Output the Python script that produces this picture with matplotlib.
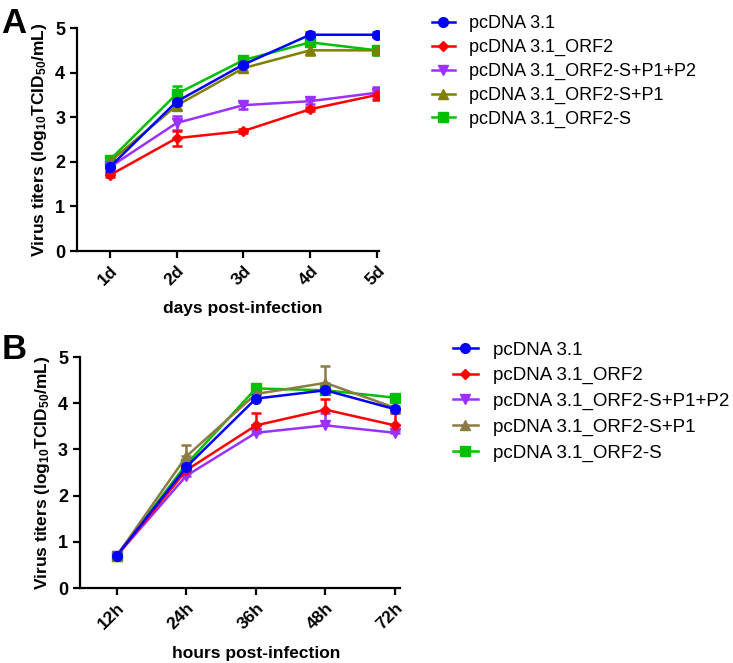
import numpy as np
import matplotlib
matplotlib.use("Agg")
import matplotlib.pyplot as plt
from matplotlib.lines import Line2D

plt.rcParams['font.family'] = ['Liberation Sans', 'DejaVu Sans']
plt.rcParams['mathtext.default'] = 'regular'

# groups (legend order)
groups = ["pcDNA 3.1", "pcDNA 3.1_ORF2", "pcDNA 3.1_ORF2-S+P1+P2",
          "pcDNA 3.1_ORF2-S+P1", "pcDNA 3.1_ORF2-S"]
colors_A = ["#0000FF", "#FF0000", "#9B30FF", "#7F7F00", "#00C000"]
colors_B = ["#0000FF", "#FF0000", "#9B30FF", "#8C7B45", "#00C000"]
markers = ["o", "D", "v", "^", "s"]
msizes = [7, 5, 7, 7, 6.5]

# panel A: days post-infection
days = ["1d", "2d", "3d", "4d", "5d"]
A_blue = [1.88, 3.35, 4.18, 4.85, 4.85]
A_red = [1.70, 2.53, 2.69, 3.18, 3.50]
A_purple = [1.88, 2.87, 3.27, 3.36, 3.55]
A_olive = [2.00, 3.26, 4.10, 4.50, 4.50]
A_green = [2.04, 3.52, 4.28, 4.68, 4.50]
A_blue_err = [0.10, 0.08, 0.05, 0.06, 0.06]
A_red_err = [0.04, 0.17, 0.05, 0.05, 0.12]
A_purple_err = [0.06, 0.15, 0.08, 0.06, 0.12]
A_olive_err = [0.05, 0.10, 0.06, 0.10, 0.05]
A_green_err = [0.05, 0.17, 0.06, 0.08, 0.10]

# panel B: hours post-infection
hours = ["12h", "24h", "36h", "48h", "72h"]
B_blue = [0.70, 2.62, 4.10, 4.28, 3.87]
B_red = [0.70, 2.55, 3.52, 3.86, 3.52]
B_purple = [0.70, 2.43, 3.36, 3.52, 3.36]
B_olive = [0.70, 2.85, 4.20, 4.44, 3.90]
B_green = [0.70, 2.68, 4.32, 4.28, 4.12]
B_blue_err = [0.0, 0.15, 0.10, 0.10, 0.20]
B_red_err = [0.0, 0.05, 0.26, 0.24, 0.26]
B_purple_err = [0.0, 0.05, 0.05, 0.26, 0.05]
B_olive_err = [0.0, 0.25, 0.05, 0.36, 0.05]
B_green_err = [0.0, 0.05, 0.05, 0.05, 0.05]

fig = plt.figure(figsize=(7.33, 6.63), dpi=100)
axA = fig.add_axes([0.105, 0.6214, 0.412, 0.3363])
axB = fig.add_axes([0.109, 0.1131, 0.4366, 0.3484])


def draw_panel(ax, labels, series, errs, colors, upper_only, xlim, xlabel, label_y):
    x = np.arange(1, len(labels) + 1)
    for i in reversed(range(len(series))):
        e = np.array(errs[i])
        yerr = [np.zeros_like(e), e] if upper_only else e
        ax.errorbar(x, series[i], yerr=yerr, color=colors[i], marker=markers[i],
                    markersize=msizes[i], lw=1.8, elinewidth=1.8, capsize=3.5,
                    capthick=1.8)
    ax.set_xlim(*xlim)
    ax.set_ylim(0, 5)
    ax.set_xticks(x)
    ax.set_xticklabels(labels, rotation=45, ha="right", rotation_mode="anchor",
                       fontsize=12.5, fontweight="bold")
    ax.set_yticks(range(6))
    ax.set_yticklabels([str(v) for v in range(6)], fontsize=13, fontweight="bold")
    for s in ["top", "right"]:
        ax.spines[s].set_visible(False)
    for s in ["left", "bottom"]:
        ax.spines[s].set_linewidth(1.6)
    ax.tick_params(width=1.6, length=5, direction="out")
    ax.set_ylabel("Virus titers (log$_{10}$TCID$_{50}$/mL)", fontsize=12.5, fontweight="bold")
    ax.set_xlabel(xlabel, fontsize=12.5, fontweight="bold")
    ax.xaxis.set_label_coords(0.55, label_y)
    # legend handles without error bars
    return [Line2D([], [], color=colors[i], marker=markers[i], markersize=msizes[i], lw=1.8)
            for i in range(len(series))]


hA = draw_panel(axA, days, [A_blue, A_red, A_purple, A_olive, A_green],
                [A_blue_err, A_red_err, A_purple_err, A_olive_err, A_green_err],
                colors_A, False, (0.51, 5.03), "days post-infection", -0.225)
hB = draw_panel(axB, hours, [B_blue, B_red, B_purple, B_olive, B_green],
                [B_blue_err, B_red_err, B_purple_err, B_olive_err, B_green_err],
                colors_B, True, (0.47, 5.07), "hours post-infection", -0.25)

fig.legend(hA, groups, loc="upper left", bbox_to_anchor=(0.574, 0.993),
           frameon=False, fontsize=13, handlelength=1.3, handletextpad=0.8,
           labelspacing=0.37, borderaxespad=0.2)
fig.legend(hB, groups, loc="upper left", bbox_to_anchor=(0.603, 0.502),
           frameon=False, fontsize=13.5, handlelength=1.3, handletextpad=0.8,
           labelspacing=0.45, borderaxespad=0.2)

fig.text(0.002, 0.99, "A", fontsize=25, fontweight="bold", va="top")
fig.text(0.002, 0.497, "B", fontsize=25, fontweight="bold", va="top")

fig.savefig("out.png", dpi=100)
